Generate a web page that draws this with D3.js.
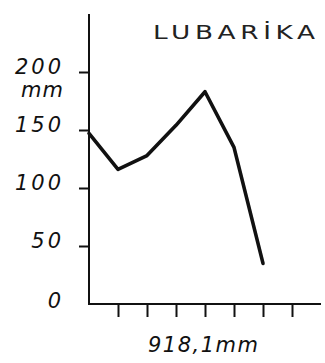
<!DOCTYPE html>
<html>
<head>
<meta charset="utf-8">
<script src="https://cdn.jsdelivr.net/npm/d3@7"></script>
<style>
  html, body { margin: 0; padding: 0; background: #ffffff; }
  svg { display: block; }
  .lbl { font-family: "DejaVu Sans", sans-serif; font-style: italic; fill: #111; }
</style>
</head>
<body>
<svg id="chart" width="325" height="363"></svg>
<script>
// Monthly rainfall, mm (station LUBARİKA)
const stationName = "LUBARİKA";
const totalLabel = "918,1mm";
const unitLabel = "mm";
const monthIndex = [0, 1, 2, 3, 4, 5, 6];
const rainfall = [147, 116, 128, 154, 183, 135, 35];
const yTicks = [0, 50, 100, 150, 200];
const xTicks = [1, 2, 3, 4, 5, 6, 7];

const svg = d3.select("#chart");
const ink = "#111";

const x = d3.scaleLinear().domain([0, 8]).range([89, 321]);
const y = d3.scaleLinear().domain([0, 250]).range([304, 14]);

// Axis lines
svg.append("line")
  .attr("x1", x(0)).attr("x2", x(0))
  .attr("y1", y(250)).attr("y2", y(0))
  .attr("stroke", ink).attr("stroke-width", 2);
svg.append("line")
  .attr("x1", x(0) - 1).attr("x2", x(8))
  .attr("y1", y(0)).attr("y2", y(0))
  .attr("stroke", ink).attr("stroke-width", 2);

// Y axis ticks and labels
const yAxis = d3.axisLeft(y)
  .tickValues(yTicks)
  .tickSize(10)
  .tickPadding(15)
  .tickFormat(d3.format("d"));
const gy = svg.append("g").attr("transform", `translate(${x(0)},0)`).call(yAxis);
gy.select(".domain").remove();
gy.selectAll(".tick line").attr("stroke", ink).attr("stroke-width", 2)
  .attr("display", d => d === 0 ? "none" : null);
gy.selectAll(".tick text")
  .attr("class", "lbl")
  .attr("dy", d => d === 0 ? "0.15em" : "0.05em")
  .style("font-size", "21px")
  .attr("letter-spacing", "3px")
  .attr("fill", ink);

// Unit under the top label
svg.append("text")
  .attr("class", "lbl")
  .attr("x", 64).attr("y", 97)
  .attr("text-anchor", "end")
  .style("font-size", "21px")
  .attr("letter-spacing", "1px")
  .text(unitLabel);

// X axis ticks
const xAxis = d3.axisBottom(x).tickValues(xTicks).tickSize(13).tickFormat("");
const gx = svg.append("g").attr("transform", `translate(0,${y(0)})`).call(xAxis);
gx.select(".domain").remove();
gx.selectAll(".tick line").attr("stroke", ink).attr("stroke-width", 2);

// Annual total
svg.append("text")
  .attr("class", "lbl")
  .attr("x", 148).attr("y", 352)
  .style("font-size", "21px")
  .attr("letter-spacing", "1.5px")
  .text(totalLabel);

// Station name, drawn in an expanded style
const stretch = 1.35;
svg.append("text")
  .attr("transform", `translate(153,39) scale(${stretch},1)`)
  .attr("font-family", "DejaVu Sans, sans-serif")
  .style("font-size", "19.5px")
  .attr("textLength", 162 / stretch)
  .attr("lengthAdjust", "spacing")
  .attr("fill", "#222")
  .text(stationName);

// Rainfall curve
const line = d3.line()
  .x((d, i) => x(monthIndex[i]))
  .y(d => y(d));
svg.append("path")
  .datum(rainfall)
  .attr("d", line)
  .attr("fill", "none")
  .attr("stroke", ink)
  .attr("stroke-width", 3.6)
  .attr("stroke-linejoin", "round")
  .attr("stroke-linecap", "round");
</script>
</body>
</html>
